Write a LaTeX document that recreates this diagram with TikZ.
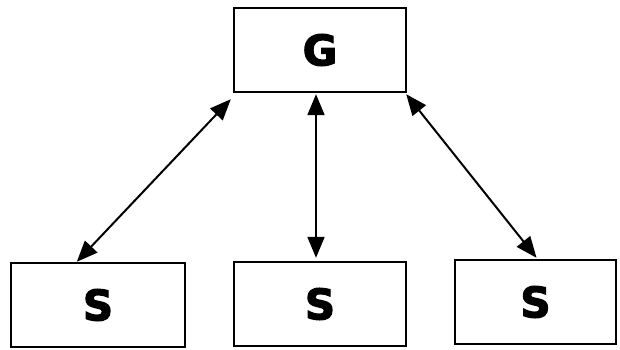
\documentclass[tikz,border=0pt]{standalone}
\usepackage{fontspec}
\setmainfont{DejaVu Sans}
\newfontfamily\heavyfont[FakeBold=3]{DejaVu Sans}
\usetikzlibrary{arrows.meta,calc}
\tikzset{tip/.tip={Triangle[length=21pt,width=17pt]}}
\begin{document}
\begin{tikzpicture}[x=1pt,y=-1pt,
  box/.style={draw,line width=2.4pt,minimum height=84pt,inner sep=0pt,
    font=\heavyfont\bfseries\fontsize{42}{42}\selectfont},
  link/.style={line width=2pt,tip-tip}]
\useasboundingbox[fill=white] (0,0) rectangle (620,350);
\node[box,minimum width=172pt] (g) at (320,50) {G};
\node[box,minimum width=174pt] (sl) at (98,305) {S};
\node[box,minimum width=172pt] (sm) at (320,304) {S};
\node[box,minimum width=161pt] (sr) at (535.5,302) {S};
% connectors between the central box and the three lower ones
\draw[link] ($(sl.north west)+(67,0)$) -- ($(g.south west)+(-2,6)$);
\draw[link] ($(g.south)+(-4,1)$) -- ($(sm.north)+(-4,-3)$);
\draw[link] ($(g.south east)+(-1,1)$) -- ($(sr.north)+(1,-1)$);
\end{tikzpicture}
\end{document}
